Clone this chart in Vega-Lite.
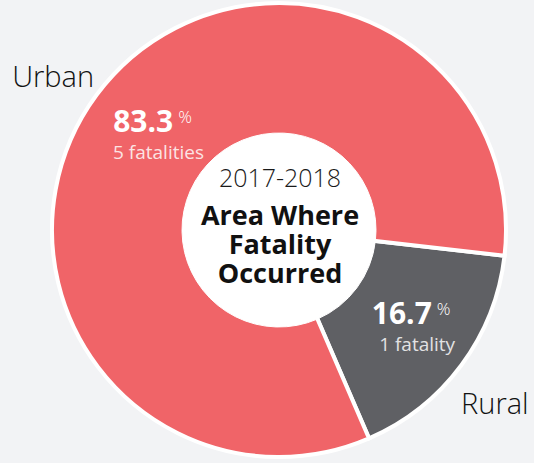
{
  "$schema": "https://vega.github.io/schema/vega-lite/v6.json",
  "width": 510,
  "height": 460,
  "autosize": {"type": "none"},
  "padding": {"left": 24, "top": 0, "right": 0, "bottom": 3},
  "background": "#f2f3f5",
  "config": {"view": {"stroke": null}},
  "data": {
    "values": [
      {"area": "Rural", "pct": 16.7, "fatalities": 1, "pctLabel": "16.7", "countLabel": "1 fatality"},
      {"area": "Urban", "pct": 83.3, "fatalities": 5, "pctLabel": "83.3", "countLabel": "5 fatalities"}
    ]
  },
  "layer": [
    {
      "mark": {"type": "arc", "outerRadius": 227, "stroke": "white", "strokeWidth": 4},
      "encoding": {
        "theta": {"field": "pct", "type": "quantitative", "stack": true, "scale": {"range": [1.6843, 7.9675]}},
        "order": {"field": "area", "type": "ordinal", "sort": "ascending"},
        "color": {"field": "area", "type": "nominal", "scale": {"domain": ["Urban", "Rural"], "range": ["#f06468", "#5f6064"]}, "legend": null}
      }
    },
    {
      "mark": {"type": "arc", "outerRadius": 97, "fill": "white", "stroke": "white", "strokeWidth": 1},
      "encoding": {
        "theta": {"field": "pct", "type": "quantitative", "stack": true},
        "order": {"field": "area", "type": "ordinal", "sort": "ascending"}
      }
    },
    {
      "mark": {"type": "text", "radius": 161, "align": "right", "baseline": "alphabetic", "dx": 23.5, "dy": -2, "font": "Open Sans", "fontSize": 30, "fontWeight": "bold", "fill": "white"},
      "encoding": {
        "theta": {"field": "pct", "type": "quantitative", "stack": true},
        "order": {"field": "area", "type": "ordinal", "sort": "ascending"},
        "text": {"field": "pctLabel"}
      }
    },
    {
      "mark": {"type": "text", "radius": 161, "align": "left", "baseline": "alphabetic", "dx": 28.5, "dy": -11, "font": "Open Sans", "fontSize": 17, "fontWeight": 300, "fill": "white"},
      "encoding": {
        "theta": {"field": "pct", "type": "quantitative", "stack": true},
        "order": {"field": "area", "type": "ordinal", "sort": "ascending"},
        "text": {"value": "%"}
      }
    },
    {
      "mark": {"type": "text", "radius": 161, "align": "center", "baseline": "alphabetic", "dx": 8.8, "dy": 25, "font": "Open Sans", "fontSize": 19, "fill": "white", "opacity": 0.82},
      "encoding": {
        "theta": {"field": "pct", "type": "quantitative", "stack": true},
        "order": {"field": "area", "type": "ordinal", "sort": "ascending"},
        "text": {"field": "countLabel"}
      }
    },
    {
      "mark": {"type": "text", "radius": 275, "align": "center", "baseline": "alphabetic", "dx": -5, "dy": 20.5, "font": "Open Sans", "fontSize": 29, "fontWeight": 300, "fill": "#111111"},
      "encoding": {
        "theta": {"field": "pct", "type": "quantitative", "stack": true},
        "order": {"field": "area", "type": "ordinal", "sort": "ascending"},
        "text": {"field": "area"}
      }
    },
    {
      "data": {"values": [{"years": "2017-2018", "title": ["Area Where", "Fatality", "Occurred"]}]},
      "layer": [
        {
          "mark": {"type": "text", "align": "center", "baseline": "alphabetic", "dx": 1, "dy": -43, "font": "Open Sans", "fontSize": 25, "fontWeight": 300, "fill": "#1a1a1a"},
          "encoding": {"text": {"field": "years"}}
        },
        {
          "mark": {"type": "text", "align": "center", "baseline": "alphabetic", "dx": 1, "dy": -5, "lineHeight": 29, "font": "Open Sans", "fontSize": 27, "fontWeight": "bold", "fill": "#111111"},
          "encoding": {"text": {"field": "title"}}
        }
      ]
    }
  ]
}
